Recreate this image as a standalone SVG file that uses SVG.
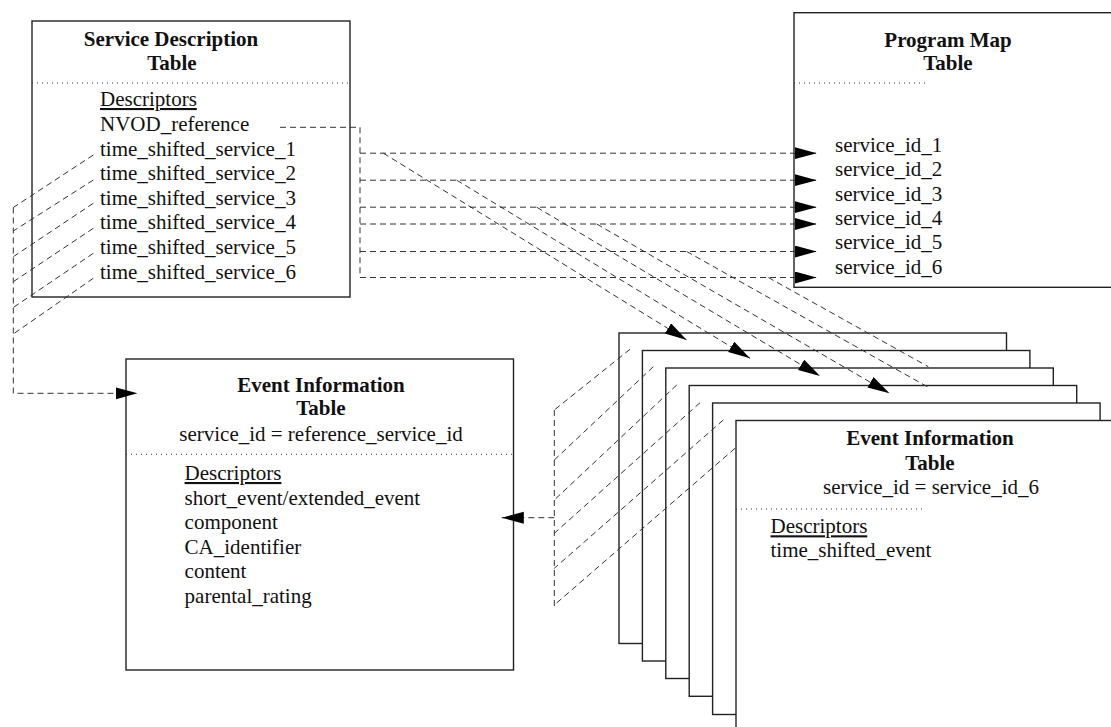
<svg xmlns="http://www.w3.org/2000/svg" width="1111" height="727" viewBox="0 0 1111 727">
<style>
  .box { fill: #ffffff; stroke: #222222; stroke-width: 1.4; }
  .dot { stroke: #333333; stroke-width: 1; stroke-dasharray: 1 4; fill: none; }
  .t { font-family: "Liberation Serif", "Times New Roman", serif; font-size: 21px; fill: #111111; }
  .b { font-weight: bold; text-anchor: middle; }
  .c { text-anchor: middle; }
  .u { text-decoration: underline; }
  .dash { stroke: #333333; stroke-width: 1; stroke-dasharray: 6 4; fill: none; }
  .arr { marker-end: url(#ah); }
</style>
<defs>
  <marker id="ah" markerUnits="userSpaceOnUse" markerWidth="24" markerHeight="14" refX="22" refY="6" orient="auto">
    <path d="M0,0 L22,6 L0,12 Z" fill="#000000" stroke="none"/>
  </marker>
</defs>
<rect x="0" y="0" width="1111" height="727" fill="#ffffff"/>

<g id="sdt">
  <rect class="box" x="32" y="21" width="318" height="276"/>
  <text class="t b" x="171" y="46">Service Description</text>
  <text class="t b" x="172" y="70">Table</text>
  <line class="dot" x1="32" y1="83" x2="350" y2="83"/>
  <text class="t u" x="100" y="106">Descriptors</text>
  <text class="t" x="100" y="131">NVOD_reference</text>
  <text class="t" x="100" y="155.6">time_shifted_service_1</text>
  <text class="t" x="100" y="180.2">time_shifted_service_2</text>
  <text class="t" x="100" y="204.8">time_shifted_service_3</text>
  <text class="t" x="100" y="229.4">time_shifted_service_4</text>
  <text class="t" x="100" y="254">time_shifted_service_5</text>
  <text class="t" x="100" y="278.6">time_shifted_service_6</text>
</g>

<g id="pmt">
  <rect class="box" x="794" y="12.7" width="340" height="274.6"/>
  <text class="t b" x="948" y="47">Program Map</text>
  <text class="t b" x="948" y="70">Table</text>
  <line class="dot" x1="794" y1="83" x2="927" y2="83"/>
  <text class="t" x="835" y="152">service_id_1</text>
  <text class="t" x="835" y="176.3">service_id_2</text>
  <text class="t" x="835" y="200.6">service_id_3</text>
  <text class="t" x="835" y="224.9">service_id_4</text>
  <text class="t" x="835" y="249.2">service_id_5</text>
  <text class="t" x="835" y="273.5">service_id_6</text>
</g>

<g id="eit-ref">
  <rect class="box" x="126" y="359" width="387.5" height="311"/>
  <text class="t b" x="321" y="391.7">Event Information</text>
  <text class="t b" x="321" y="415">Table</text>
  <text class="t c" x="321" y="440.7">service_id = reference_service_id</text>
  <line class="dot" x1="126" y1="454.3" x2="513.5" y2="454.3"/>
  <text class="t u" x="184.6" y="480">Descriptors</text>
  <text class="t" x="184.6" y="504.5">short_event/extended_event</text>
  <text class="t" x="184.6" y="529">component</text>
  <text class="t" x="184.6" y="553.5">CA_identifier</text>
  <text class="t" x="184.6" y="578">content</text>
  <text class="t" x="184.6" y="602.5">parental_rating</text>
</g>

<g id="eit-1"><rect class="box" x="619" y="333" width="387.5" height="310.5"/></g>
<g id="eit-2"><rect class="box" x="642.4" y="350.5" width="387.5" height="310.5"/></g>
<g id="eit-3"><rect class="box" x="665.8" y="368" width="387.5" height="310.5"/></g>
<g id="eit-4"><rect class="box" x="689.2" y="385.5" width="387.5" height="310.8"/></g>
<g id="eit-5"><rect class="box" x="712.6" y="403" width="387.5" height="311.5"/></g>
<g id="eit-6">
  <rect class="box" x="736" y="420.5" width="387.5" height="311"/>
  <text class="t b" x="930" y="445">Event Information</text>
  <text class="t b" x="930" y="470">Table</text>
  <text class="t c" x="931" y="494">service_id = service_id_6</text>
  <line class="dot" x1="736" y1="509" x2="926" y2="509"/>
  <text class="t u" x="770.5" y="533.3">Descriptors</text>
  <text class="t" x="770.5" y="557">time_shifted_event</text>
</g>

<g id="connectors">
  <path class="dash" d="M280,127.3 H360 V277.5"/>
  <path class="dash arr" d="M360,153.2 H816.7"/>
  <path class="dash arr" d="M360,180.2 H816.7"/>
  <path class="dash arr" d="M360,207.2 H816.7"/>
  <path class="dash arr" d="M360,224 H816.7"/>
  <path class="dash arr" d="M360,251.5 H816.7"/>
  <path class="dash arr" d="M360,277.5 H816.7"/>
  <path class="dash arr" d="M383.3,153.2 L686.7,340"/>
  <path class="dash arr" d="M456.7,180.2 L750,358.3"/>
  <path class="dash arr" d="M536.7,207.2 L820,376"/>
  <path class="dash arr" d="M596.7,224 L889.5,393.3"/>
  <path class="dash" d="M686.7,251.5 L928.3,387.3"/>
  <path class="dash" d="M768.3,277.5 L928.3,366.7"/>
  <path class="dash" d="M93.3,155 L13.3,207.5"/>
  <path class="dash" d="M93.3,180 L13.3,231"/>
  <path class="dash" d="M93.3,203.3 L13.3,256.7"/>
  <path class="dash" d="M93.3,228.3 L13.3,281.7"/>
  <path class="dash" d="M93.3,253.3 L13.3,307.5"/>
  <path class="dash" d="M93.3,278.3 L13.3,334"/>
  <path class="dash arr" d="M13.3,207.5 V393.3 H137.5"/>
  <path class="dash" d="M630,349.3 L554.3,410"/>
  <path class="dash" d="M653.3,366.7 L554.3,460"/>
  <path class="dash" d="M676.7,385 L554.3,500"/>
  <path class="dash" d="M700,402.7 L554.3,533.3"/>
  <path class="dash" d="M723.3,420 L554.3,568.3"/>
  <path class="dash" d="M735,448.3 L554.3,605"/>
  <path class="dash arr" d="M554.3,410 V606.7 M554.3,517.7 H501.8"/>
</g>
</svg>
